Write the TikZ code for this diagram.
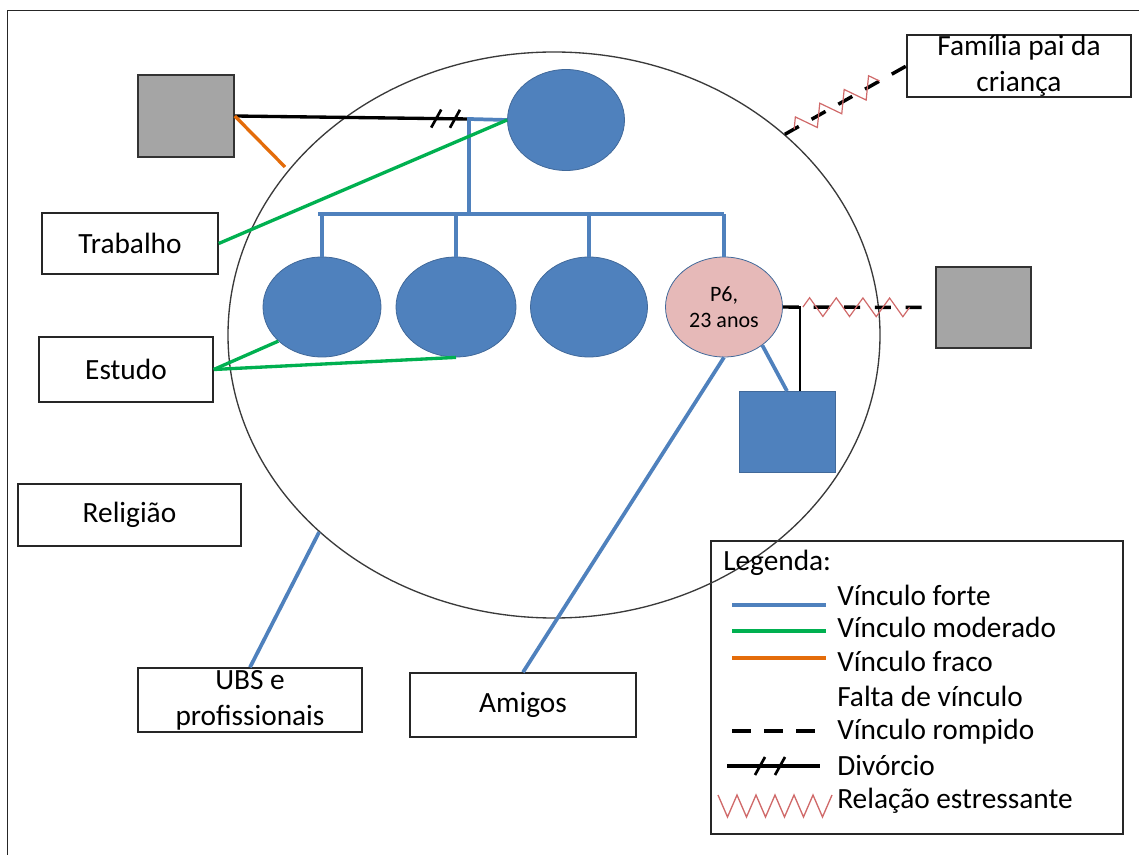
\documentclass[tikz,border=0pt]{standalone}
\usepackage{fontspec}
\setmainfont{Carlito}
\usetikzlibrary{shapes.geometric,decorations.pathmorphing,calc}

\definecolor{famblue}{HTML}{4F81BD}
\definecolor{famblueedge}{HTML}{41699A}
\definecolor{modgreen}{HTML}{00B050}
\definecolor{weakorange}{HTML}{E46C0A}
\definecolor{stressred}{HTML}{D06A6A}
\definecolor{greybox}{HTML}{A5A5A5}
\definecolor{p6pink}{HTML}{E6B9B8}
\definecolor{ringgrey}{HTML}{3A3A3A}

\tikzset{
  labelbox/.style={draw=black!85, line width=1.1pt, fill=white, inner sep=0pt,
    align=center, font=\fontsize{22}{27}\selectfont},
  female/.style={ellipse, draw=famblueedge, line width=0.6pt, fill=famblue, inner sep=0pt},
  malesq/.style={draw=famblueedge, line width=0.6pt, fill=famblue, inner sep=0pt},
  outsider/.style={draw=black!80, line width=1.2pt, fill=greybox, inner sep=0pt},
  strong/.style={draw=famblue, line width=2.8pt},
  moderate/.style={draw=modgreen, line width=2.5pt},
  weak/.style={draw=weakorange, line width=2.5pt},
  marital/.style={draw=black, line width=2.5pt},
  childline/.style={draw=black, line width=1.6pt},
  broken/.style={draw=black, line width=2.6pt, dash pattern=on 12pt off 11pt},
  stressline/.style={draw=stressred, line width=0.9pt, line join=miter},
  stress/.style={stressline, decorate, decoration={zigzag, segment length=20pt,
    amplitude=7pt, pre=moveto, post=moveto, pre length=15pt, post length=13pt}},
  divmark/.style={draw=black, line width=2pt},
  legtext/.style={anchor=base west, inner sep=0pt, font=\fontsize{22}{27}\selectfont},
}

\begin{document}
\begin{tikzpicture}[x=0.75pt,y=-0.75pt]
\useasboundingbox (0,0) rectangle (1139,855);

% page frame
\draw[line width=1.3pt, black!85] (7.5,855) -- (7.5,10.5) -- (1139,10.5);

% legend box
\node[draw=black!85, line width=1.2pt, minimum width=309pt, minimum height=219.75pt,
      inner sep=0pt] (legend) at (917,687.5) {};

% household circle
\node[ellipse, draw=ringgrey, line width=1pt, minimum width=489pt,
      minimum height=424.5pt, inner sep=0pt] (net) at (554,335) {};

% family members
\node[outsider, minimum width=72pt, minimum height=61.5pt] (father) at (186,116) {};
\node[female, minimum width=87.75pt, minimum height=75.75pt] (mother) at (566,120) {};
\node[female, minimum width=88.5pt, minimum height=75pt] (c1) at (322,307) {};
\node[female, minimum width=90pt, minimum height=75pt] (c2) at (456,307) {};
\node[female, minimum width=87.75pt, minimum height=75pt] (c3) at (589,307) {};
\node[ellipse, draw=famblueedge, line width=0.6pt, fill=p6pink, inner sep=0pt,
      minimum width=87.75pt, minimum height=75pt, align=center,
      font=\fontsize{16.5}{19}\selectfont] (p6) at (724,307) {P6,\\23 anos};
\node[malesq, minimum width=72pt, minimum height=60.75pt] (kid) at (787,432) {};
\node[outsider, minimum width=71.25pt, minimum height=60.75pt] (partner) at (983.5,307.5) {};

% outside systems
\node[labelbox, minimum width=168pt, minimum height=46.5pt] (fam) at (1019,66)
  {Família pai da\\criança};
\node[labelbox, minimum width=132pt, minimum height=45.75pt] (trab) at (130,243.5) {Trabalho};
\node[labelbox, minimum width=130.5pt, minimum height=48.75pt] (estudo) at (126,369.5) {Estudo};
\node[labelbox, minimum width=167.25pt, minimum height=46.5pt] (relig) at (129.5,515) {Religião};
\node[labelbox, minimum width=168pt, minimum height=48pt] (ubs) at (250,700)
  {UBS e\\profissionais};
\node[labelbox, minimum width=169.5pt, minimum height=48pt] (amigos) at (523,705) {Amigos};

% helper points
\coordinate (junction) at (469,119);
\coordinate (barL) at (320,214);
\coordinate (barR) at (722,214);
\coordinate (weakend) at (285,167);
\coordinate (pj) at (800,307);

% parents: divorce
\draw[marital] (father.east) -- (junction);
\path (father.east) -- (junction) coordinate[pos=0.86] (dv1) coordinate[pos=0.94] (dv2);
\foreach \d in {dv1,dv2}
  \draw[divmark] ($(\d)+(-5,9)$) -- ($(\d)+(5,-9)$);
\draw[weak] (father.east) -- (weakend);

% descent lines
\draw[strong] (mother.west) -- (junction) -- (junction |- barL);
\draw[strong, line cap=rect] (barL) -- (barR);
\foreach \c in {c1,c2,c3,p6}
  \draw[strong] (\c.north) -- (\c.north |- barL);

% P6 with her son and his father
\draw[strong] (p6.-45) -- (kid.north);
\draw[childline] (p6.east) -- (pj) -- (pj |- kid.north);
\draw[broken] (p6.east) -- (partner.west);
\draw[stress] (p6.east) -- (partner.west);

% family of the child's father
\draw[broken] (net.41) -- (fam.west);
\draw[stress, decoration={zigzag, segment length=21pt, amplitude=7.5pt,
   pre=moveto, post=moveto, pre length=8pt, post length=13pt}] (net.41) -- (fam.west);

% links to outside systems
\draw[moderate] (trab.east) -- (mother.west);
\draw[moderate] (estudo.east) -- (c1.218);
\draw[moderate] (estudo.east) -- (c2.south);
\draw[strong] (ubs.north) -- (net.220);
\draw[strong] (amigos.north) -- (p6.south);

% legend
\node[legtext] (lgTitle) at (723,570) {Legenda:};
\draw[strong] (732,605) -- (826,605);
\node[legtext] (lg1) at (837,605) {Vínculo forte};
\draw[moderate, line width=2.8pt] (732,631) -- (826,631);
\node[legtext] (lg2) at (837,637) {Vínculo moderado};
\draw[weak, line width=2.8pt] (732,658) -- (826,658);
\node[legtext] (lg3) at (837,671) {Vínculo fraco};
\node[legtext] (lg4) at (837,706) {Falta de vínculo};
\draw[draw=black, line width=2.8pt, dash pattern=on 14.5pt off 9.5pt] (732,731) -- (818,731);
\node[legtext] (lg5) at (837,739) {Vínculo rompido};
\draw[marital] (727,766) -- (820,766);
\foreach \sx in {760,780}
  \draw[divmark] (\sx-5,775) -- (\sx+5,757);
\node[legtext] (lg6) at (837,775) {Divórcio};
\draw[stressline, line width=1pt] (718,795) -- (727.5,817) -- (737,795) -- (746.5,817)
  -- (756,795) -- (765.5,817) -- (775,795) -- (784.5,817) -- (794,795) -- (803.5,817)
  -- (813,795) -- (822.5,817) -- (832,795);
\node[legtext] (lg7) at (837,808) {Relação estressante};
\end{tikzpicture}
\end{document}
